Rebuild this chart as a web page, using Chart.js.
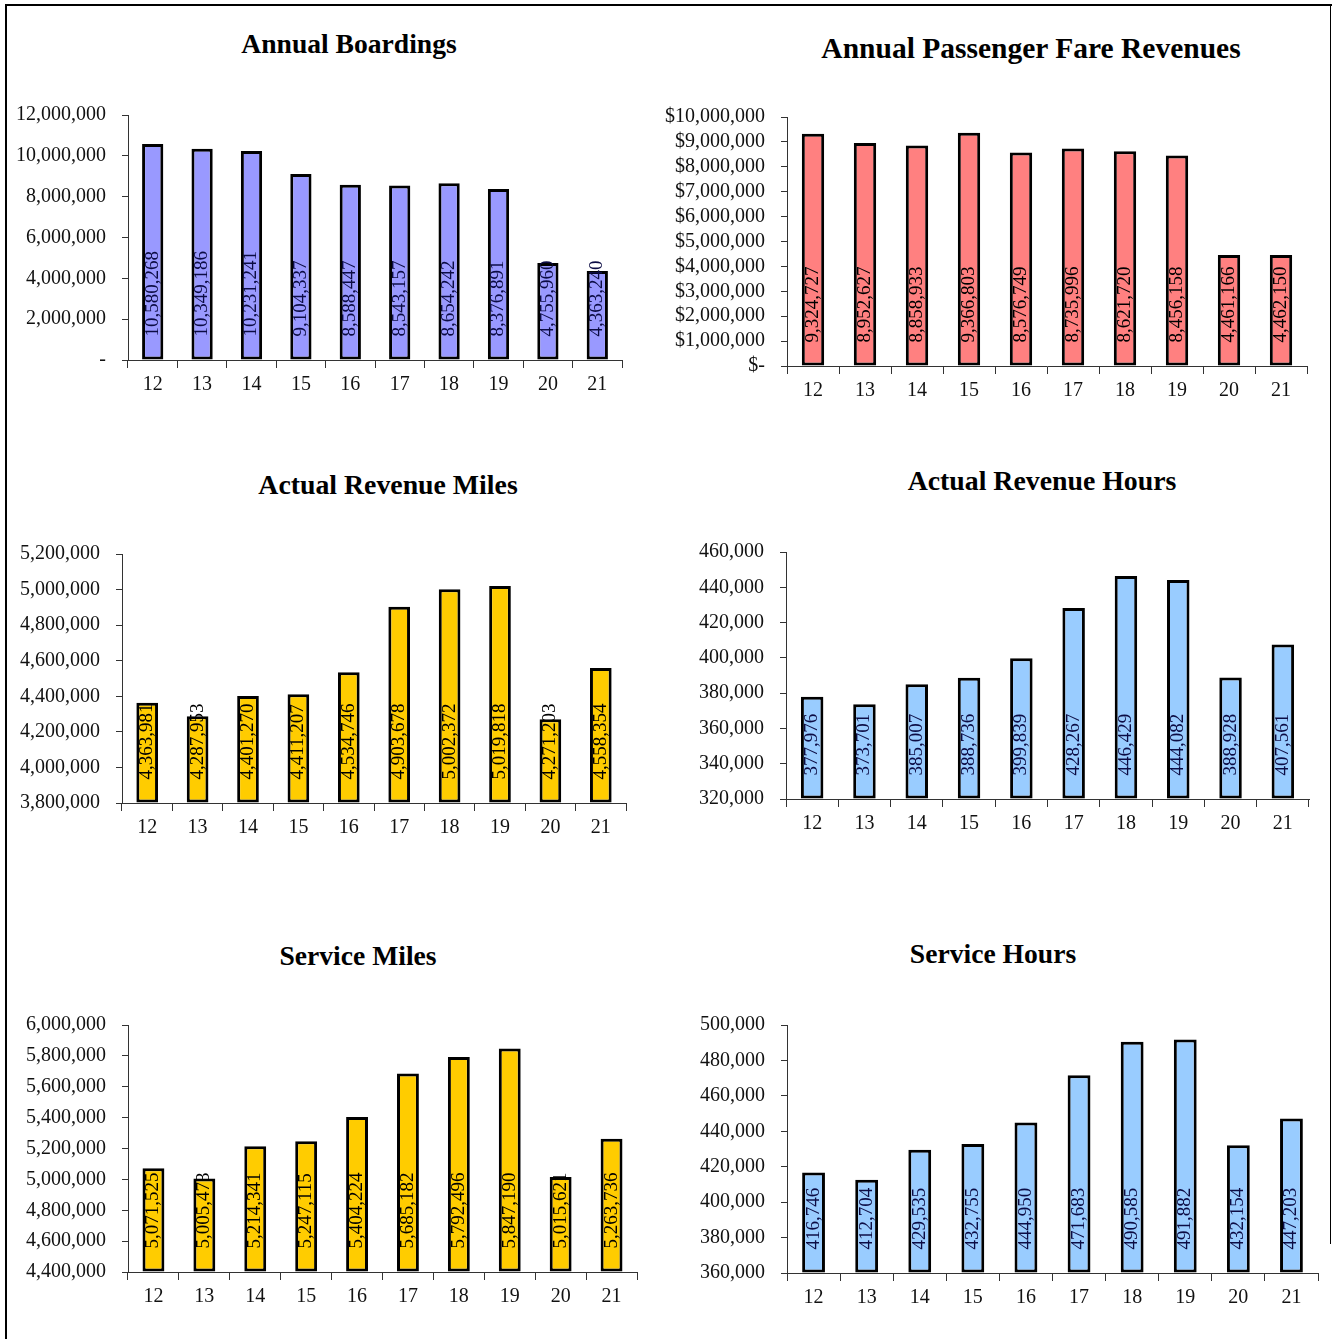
<!DOCTYPE html>
<html>
<head>
<meta charset="utf-8">
<script src="https://cdn.jsdelivr.net/npm/chart.js@4.4.1/dist/chart.umd.min.js"></script>
<style>
  html, body { margin:0; padding:0; background:#fff; overflow:hidden; }
  body { width:1332px; height:1339px; position:relative; }
  .frame-top { position:absolute; left:5px; top:4px; width:1327px; height:2px; background:#000; }
  .frame-left { position:absolute; left:5px; top:4px; width:2px; height:1335px; background:#000; }
  .frame-right { position:absolute; left:1330px; top:4px; width:1px; height:1240px; background:#000; }
  .title { position:absolute; transform:translate(-50%,-50%); font-family:"Liberation Serif", serif; font-weight:bold; line-height:1; white-space:nowrap; color:#000; }
  canvas { position:absolute; }
</style>
</head>
<body>
<div class="frame-top"></div>
<div class="frame-left"></div>
<div class="frame-right"></div>

<script>
// ---- Data ----
const years = ['12','13','14','15','16','17','18','19','20','21'];

const annualBoardings = [10580268, 10349186, 10231241, 9104337, 8588447, 8543157, 8654242, 8376891, 4755960, 4363240];
const fareRevenues    = [9324727, 8952627, 8858933, 9366803, 8576749, 8735996, 8621720, 8456158, 4461166, 4462150];
const revenueMiles    = [4363981, 4287953, 4401270, 4411207, 4534746, 4903678, 5002372, 5019818, 4271203, 4558354];
const revenueHours    = [377976, 373701, 385007, 388736, 399839, 428267, 446429, 444082, 388928, 407561];
const serviceMiles    = [5071525, 5005473, 5214341, 5247115, 5404224, 5685182, 5792496, 5847190, 5015621, 5263736];
const serviceHours    = [416746, 412704, 429535, 432755, 444950, 471683, 490585, 491882, 432154, 447203];

const titles = ['Annual Boardings', 'Annual Passenger Fare Revenues', 'Actual Revenue Miles',
                'Actual Revenue Hours', 'Service Miles', 'Service Hours'];

// axis ranges [min, max, step]
const ranges = [
  [0, 12000000, 2000000],
  [0, 10000000, 1000000],
  [3800000, 5200000, 200000],
  [320000, 460000, 20000],
  [4400000, 6000000, 200000],
  [360000, 500000, 20000]
];

// ---- Layout / style (not data) ----
const panels = [
  { data: annualBoardings, fill:'#9999FF', lab:'#0c0c44', fmt:'dash',   tcx:349,  tcy:44,  ts:27.6, ax:128, right:622,  top:115,  bottom:360,  yw:120 },
  { data: fareRevenues,    fill:'#FF8080', lab:'#000000', fmt:'dollar', tcx:1031, tcy:49,  ts:29.5, ax:787, right:1307, top:117,  bottom:366,  yw:126 },
  { data: revenueMiles,    fill:'#FFCC00', lab:'#000000', fmt:'plain',  tcx:388,  tcy:485, ts:27.8, ax:122, right:626,  top:554,  bottom:803,  yw:118 },
  { data: revenueHours,    fill:'#99CCFF', lab:'#0c0c44', fmt:'plain',  tcx:1042, tcy:481, ts:27.8, ax:786, right:1309, top:552,  bottom:799,  yw:120 },
  { data: serviceMiles,    fill:'#FFCC00', lab:'#000000', fmt:'plain',  tcx:358,  tcy:956, ts:27.6, ax:128, right:637,  top:1025, bottom:1272, yw:120 },
  { data: serviceHours,    fill:'#99CCFF', lab:'#0c0c44', fmt:'plain',  tcx:993,  tcy:954, ts:27.6, ax:787, right:1318, top:1025, bottom:1273, yw:120 }
];

const num = v => Math.round(v).toLocaleString('en-US');
const fmtTick = {
  dash:   v => v === 0 ? '-' : num(v),
  dollar: v => v === 0 ? '$-' : '$' + num(v),
  plain:  v => num(v)
};

const barLabels = {
  id: 'barLabels',
  afterDatasetsDraw(chart, args, opts) {
    const ctx = chart.ctx;
    const meta = chart.getDatasetMeta(0);
    const vals = chart.data.datasets[0].data;
    ctx.save();
    ctx.font = '19px "Liberation Serif"';
    ctx.fillStyle = opts.color || '#000';
    ctx.textBaseline = 'middle';
    ctx.textAlign = 'left';
    meta.data.forEach((bar, i) => {
      ctx.save();
      ctx.translate(bar.x, bar.base - 23);
      ctx.rotate(-Math.PI / 2);
      ctx.fillText(num(vals[i]), 0, 0);
      ctx.restore();
    });
    ctx.restore();
  }
};

const PAD_TOP = 20, PAD_RIGHT = 6, XH = 46;

function makeChart(c, p, idx) {
  const [mn, mx, st] = ranges[idx];
  return new Chart(c, {
    type: 'bar',
    data: {
      labels: years,
      datasets: [{
        data: p.data,
        backgroundColor: p.fill,
        borderColor: '#000',
        borderWidth: 3,
        borderSkipped: false,
        base: mn,
        barPercentage: 0.43,
        categoryPercentage: 1.0
      }]
    },
    options: {
      responsive: false,
      maintainAspectRatio: false,
      animation: false,
      devicePixelRatio: 1,
      layout: { padding: { top: PAD_TOP, right: PAD_RIGHT, left: 0, bottom: 0 } },
      plugins: {
        legend: { display: false },
        tooltip: { enabled: false },
        title: { display: false },
        barLabels: { color: p.lab }
      },
      scales: {
        x: {
          offset: true,
          grid: { display: true, offset: true, drawOnChartArea: false, drawTicks: true, tickLength: 8, color: '#333' },
          border: { display: true, color: '#333', width: 1 },
          ticks: { color: '#111', font: { family: 'Liberation Serif', size: 20 }, padding: 5, maxRotation: 0, autoSkip: false },
          afterFit: s => { s.height = XH; }
        },
        y: {
          min: mn, max: mx,
          grid: { display: true, drawOnChartArea: false, drawTicks: true, tickLength: 6, color: '#333' },
          border: { display: true, color: '#333', width: 1 },
          ticks: { stepSize: st, autoSkip: false, color: '#111', font: { family: 'Liberation Serif', size: 20 }, padding: 16,
                   callback: v => fmtTick[p.fmt](v) },
          afterFit: s => { s.width = p.yw; }
        }
      }
    },
    plugins: [barLabels]
  });
}

panels.forEach((p, idx) => {
  const t = document.createElement('div');
  t.className = 'title';
  t.textContent = titles[idx];
  t.style.left = p.tcx + 'px';
  t.style.top = p.tcy + 'px';
  t.style.fontSize = p.ts + 'px';
  document.body.appendChild(t);

  const left = p.ax - p.yw;
  const w = p.right + PAD_RIGHT - left;
  let top = p.top - PAD_TOP;
  let h = p.bottom + XH - top;

  const c = document.createElement('canvas');
  const place = () => {
    c.width = w; c.height = h;
    c.style.left = left + 'px';
    c.style.top = top + 'px';
    c.style.width = w + 'px';
    c.style.height = h + 'px';
  };
  place();
  document.body.appendChild(c);

  let chart = makeChart(c, p, idx);
  const ca = chart.chartArea;
  const topOff = ca.top;             // offset of plot top inside canvas
  const botOff = h - ca.bottom;      // space below plot inside canvas
  const dx = ca.left - p.yw;
  if (Math.abs(topOff - PAD_TOP) > 0.5 || Math.abs(botOff - XH) > 0.5) {
    chart.destroy();
    top = p.top - topOff;
    h = topOff + (p.bottom - p.top) + botOff;
    place();
    chart = makeChart(c, p, idx);
  }
});
</script>
</body>
</html>
